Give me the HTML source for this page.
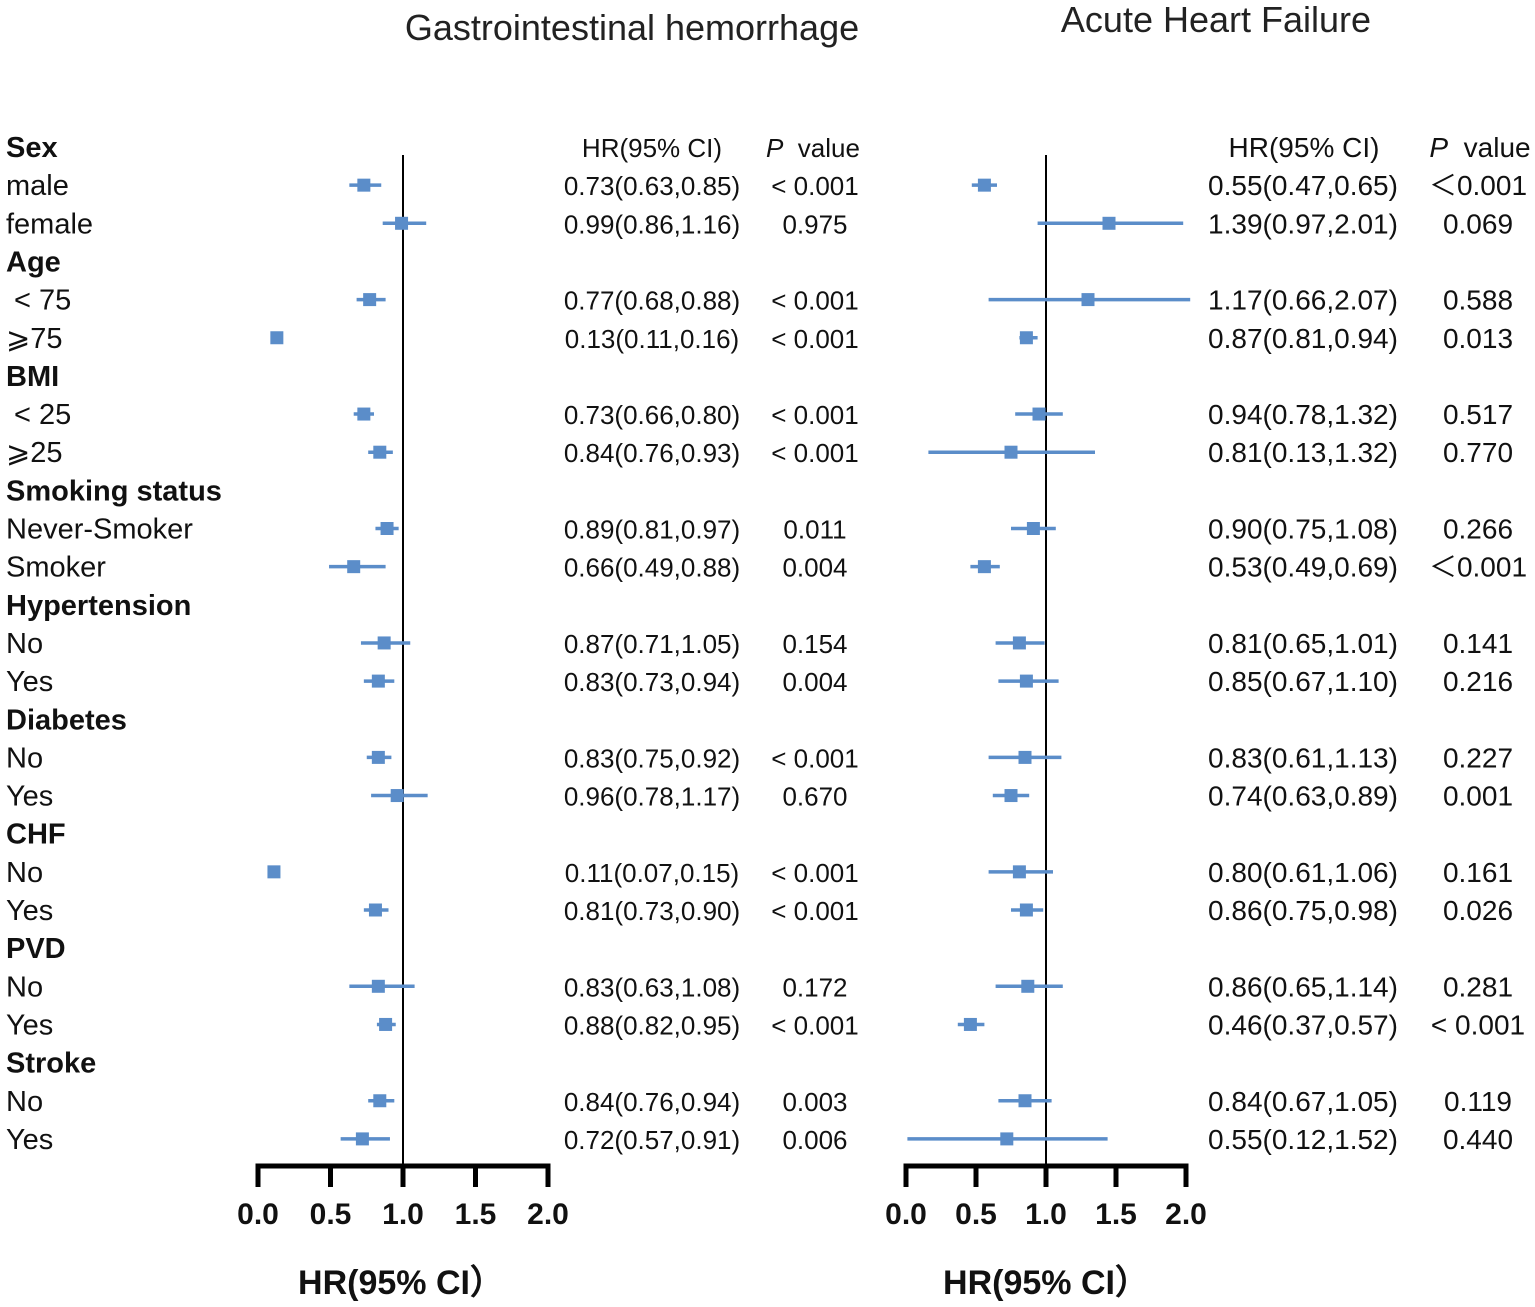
<!DOCTYPE html>
<html><head><meta charset="utf-8">
<style>
html,body{margin:0;padding:0;background:#fff;}
svg{display:block;font-family:"Liberation Sans",Arial,sans-serif;}
</style></head>
<body>
<svg id="chart" width="1535" height="1307" viewBox="0 0 1535 1307"></svg>
<script>
const rowLabels = ["Sex","male","female","Age","\u00a0< 75","\u2a7e75","BMI","\u00a0< 25","\u2a7e25","Smoking status","Never-Smoker","Smoker","Hypertension","No","Yes","Diabetes","No","Yes","CHF","No","Yes","PVD","No","Yes","Stroke","No","Yes"];
const isHeader = [1,0,0,1,0,0,1,0,0,1,0,0,1,0,0,1,0,0,1,0,0,1,0,0,1,0,0];
// Gastrointestinal hemorrhage (null = header row)
const giEst = [null,0.73,0.99,null,0.77,0.13,null,0.73,0.84,null,0.89,0.66,null,0.87,0.83,null,0.83,0.96,null,0.11,0.81,null,0.83,0.88,null,0.84,0.72];
const giLo  = [null,0.63,0.86,null,0.68,0.11,null,0.66,0.76,null,0.81,0.49,null,0.71,0.73,null,0.75,0.78,null,0.07,0.73,null,0.63,0.82,null,0.76,0.57];
const giHi  = [null,0.85,1.16,null,0.88,0.16,null,0.80,0.93,null,0.97,0.88,null,1.05,0.94,null,0.92,1.17,null,0.15,0.90,null,1.08,0.95,null,0.94,0.91];
const giHRText = ["","0.73(0.63,0.85)","0.99(0.86,1.16)","","0.77(0.68,0.88)","0.13(0.11,0.16)","","0.73(0.66,0.80)","0.84(0.76,0.93)","","0.89(0.81,0.97)","0.66(0.49,0.88)","","0.87(0.71,1.05)","0.83(0.73,0.94)","","0.83(0.75,0.92)","0.96(0.78,1.17)","","0.11(0.07,0.15)","0.81(0.73,0.90)","","0.83(0.63,1.08)","0.88(0.82,0.95)","","0.84(0.76,0.94)","0.72(0.57,0.91)"];
const giP = ["","< 0.001","0.975","","< 0.001","< 0.001","","< 0.001","< 0.001","","0.011","0.004","","0.154","0.004","","< 0.001","0.670","","< 0.001","< 0.001","","0.172","< 0.001","","0.003","0.006"];
// Acute heart failure (plotted positions as drawn in figure)
const ahfEst = [null,0.56,1.45,null,1.30,0.86,null,0.95,0.75,null,0.91,0.56,null,0.81,0.86,null,0.85,0.75,null,0.81,0.86,null,0.87,0.46,null,0.85,0.72];
const ahfLo  = [null,0.47,0.94,null,0.59,0.81,null,0.78,0.16,null,0.75,0.46,null,0.64,0.66,null,0.59,0.62,null,0.59,0.75,null,0.64,0.37,null,0.66,0.01];
const ahfHi  = [null,0.65,1.98,null,2.03,0.94,null,1.12,1.35,null,1.07,0.67,null,0.99,1.09,null,1.11,0.88,null,1.05,0.98,null,1.12,0.56,null,1.04,1.44];
const ahfHRText = ["","0.55(0.47,0.65)","1.39(0.97,2.01)","","1.17(0.66,2.07)","0.87(0.81,0.94)","","0.94(0.78,1.32)","0.81(0.13,1.32)","","0.90(0.75,1.08)","0.53(0.49,0.69)","","0.81(0.65,1.01)","0.85(0.67,1.10)","","0.83(0.61,1.13)","0.74(0.63,0.89)","","0.80(0.61,1.06)","0.86(0.75,0.98)","","0.86(0.65,1.14)","0.46(0.37,0.57)","","0.84(0.67,1.05)","0.55(0.12,1.52)"];
const ahfP = ["","\uff1c0.001","0.069","","0.588","0.013","","0.517","0.770","","0.266","\uff1c0.001","","0.141","0.216","","0.227","0.001","","0.161","0.026","","0.281","< 0.001","","0.119","0.440"];
const tickVals = [0,0.5,1,1.5,2];
const tickLabels = ["0.0","0.5","1.0","1.5","2.0"];

const NS="http://www.w3.org/2000/svg";
const svg=document.getElementById('chart');
function mk(tag,attrs,txt){const e=document.createElementNS(NS,tag);for(const k in attrs)e.setAttribute(k,attrs[k]);if(txt!==undefined)e.textContent=txt;svg.appendChild(e);return e;}
const rowY=i=>147+i*38.15;
const BLUE="#5b8dc9";

function title(x,y,t,name){const e=mk('text',{x:x,y:y,'font-size':36,'text-anchor':'middle',fill:'#222'},t);

}
title(632,40,"Gastrointestinal hemorrhage","gi-title");
title(1216,32,"Acute Heart Failure","ahf-title");

rowLabels.forEach((t,i)=>{const e=mk('text',{x:6,y:rowY(i)+10,'font-size':29,'font-weight':isHeader[i]?'bold':'normal',fill:'#111'},t);

});

function panel(prefix,x0,x2,est,lo,hi,hrText,pText,hrX,pX,hrHeadX,pHeadX,fs){
  const sx=v=>x0+(x2-x0)*v/2;
  const axisY=1166;
  const rl=mk('line',{x1:sx(1),x2:sx(1),y1:155,y2:axisY,stroke:'#000','stroke-width':2});
  
  
  const ax=mk('line',{x1:sx(0)-2.5,x2:sx(2)+2.5,y1:axisY,y2:axisY,stroke:'#000','stroke-width':5});
  
  
  tickVals.forEach((v,i)=>{
    const t=mk('line',{x1:sx(v),x2:sx(v),y1:axisY,y2:1187,stroke:'#000','stroke-width':5});
    
    
    const l=mk('text',{x:sx(v),y:1224,'font-size':30,'font-weight':'bold','text-anchor':'middle',fill:'#111'},tickLabels[i]);
    
    
  });
  const at=mk('text',{x:sx(1)+(prefix==='gi'?-2:0),y:1294,'font-size':34,'font-weight':'bold','text-anchor':'middle',fill:'#111'},"HR(95% CI\uff09");
  
  
  const h1=mk('text',{x:hrHeadX,y:157,'font-size':fs,'text-anchor':'middle',fill:'#111'},"HR(95% CI)");
  
  
  const h2=mk('text',{x:pHeadX,y:157,'font-size':fs,'text-anchor':'middle',fill:'#111'});
  
  
  const ts=document.createElementNS(NS,'tspan');ts.setAttribute('font-style','italic');ts.textContent='P';h2.appendChild(ts);
  const ts2=document.createElementNS(NS,'tspan');ts2.textContent='\u00a0 value';h2.appendChild(ts2);
  est.forEach((e,i)=>{
    if(e===null)return;
    const y=rowY(i);
    const ci=mk('line',{x1:sx(lo[i]),x2:sx(hi[i]),y1:y,y2:y,stroke:BLUE,'stroke-width':3.5});
    
    
    const sq=mk('rect',{x:sx(e)-6.5,y:y-6.5,width:13,height:13,fill:BLUE});
    
    
    const ht=mk('text',{x:hrX,y:y+10,'font-size':fs,'text-anchor':'middle',fill:'#111'},hrText[i]);
    
    
    const pt=mk('text',{x:pX,y:y+10,'font-size':fs,'text-anchor':'middle',fill:'#111'},pText[i]);
    
    
  });
}
panel('gi',258,548,giEst,giLo,giHi,giHRText,giP,652,815,652,813,26);
panel('ahf',906,1186,ahfEst,ahfLo,ahfHi,ahfHRText,ahfP,1303,1478,1304,1480,28);
</script>
</body></html>
